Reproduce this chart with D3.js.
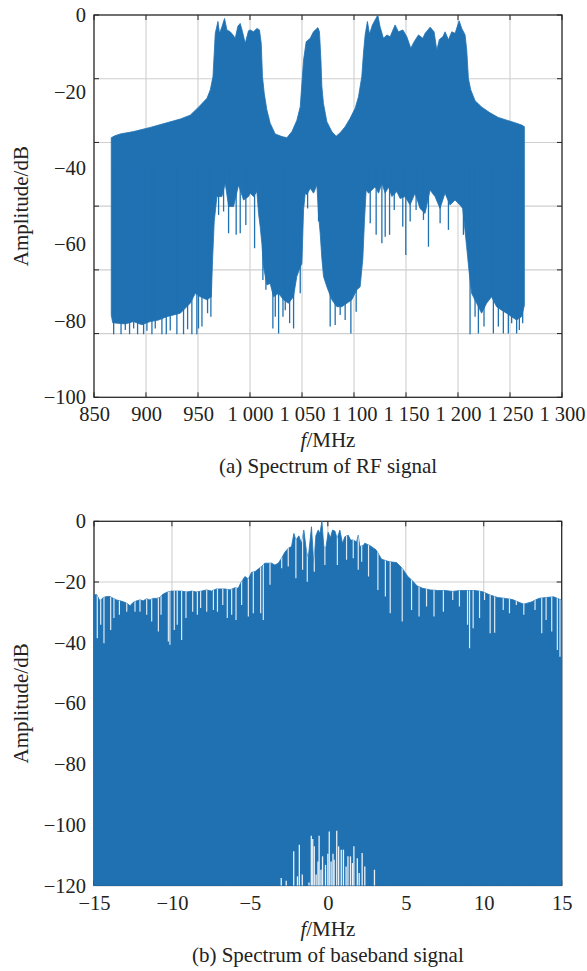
<!DOCTYPE html>
<html>
<head>
<meta charset="utf-8">
<script src="https://cdn.jsdelivr.net/npm/d3@7"></script>
<style>
  html, body { margin: 0; padding: 0; background: #ffffff; }
  svg { display: block; font-family: "Liberation Serif", "Times New Roman", serif; }
</style>
</head>
<body>
<svg id="chart" width="587" height="971"></svg>
<script>
// ---------- (a) RF spectrum: [frequency MHz, amplitude dB] ----------
const rfUpper = [
  [866.6,-32.1],[870,-31.6],[875.3,-31.1],[888,-30.5],[904,-29.4],[920,-28.2],[933,-27.2],
  [942.5,-26.2],[950.5,-24.1],[958.6,-21.8],[961.8,-19.6],[964.4,-16.1],[965.6,-10],[966.6,-4.8],
  [969.2,-1.7],[970.7,-4.8],[973,-3.1],[975.5,-0.9],[977.8,-3.9],[981,-4.4],[983.6,-5.2],
  [985.8,-6.1],[988.4,-2.9],[990.6,-2.2],[992.8,-4.4],[995.4,-7.4],[998.6,-4.1],[1000.2,-3.9],
  [1003.4,-4.4],[1006.6,-3.5],[1009.1,-3.9],[1010.8,-7.4],[1012,-16.1],[1013.7,-20.5],
  [1016.2,-24.8],[1019.4,-28.3],[1024.2,-31.1],[1030.7,-31.8],[1035.5,-32.1],[1040.3,-30.5],
  [1045.1,-27.5],[1048.3,-24],[1049.9,-17.9],[1051.5,-11.8],[1054,-7],[1057.9,-6.1],[1061,-4.4],
  [1065.3,-3.3],[1066.8,-4.4],[1068.2,-11.8],[1069.1,-18.7],[1070.6,-23.1],[1073.9,-27.9],
  [1078.7,-30.5],[1082.8,-31.7],[1086.7,-30.8],[1091.5,-29.2],[1096.3,-27],[1101.1,-24.4],
  [1104.3,-21.4],[1107.5,-16.1],[1109.1,-10],[1110.7,-5.2],[1112.9,-1.7],[1114.9,-5],
  [1117.7,-2.6],[1120.3,-1.3],[1122.9,0],[1125.1,-3.1],[1128.3,-6.1],[1131.6,-5.2],[1134.7,-5.7],
  [1139.5,-2.6],[1142.7,-4.4],[1147,-3.9],[1150.8,-5.7],[1154.6,-8.7],[1157.8,-7],[1162,-5.2],
  [1166.2,-6.1],[1168.4,-4.8],[1173.2,-3.2],[1177,-4.4],[1179.6,-9.2],[1182.1,-6.4],[1185.4,-5.7],
  [1187.6,-4.4],[1190.8,-6.5],[1194,-4.4],[1197.2,-4.8],[1201.1,-1.5],[1203.6,-3.5],[1206.8,-5.2],
  [1208.4,-9.2],[1210,-16.6],[1212.3,-19.6],[1216.4,-22.4],[1222.9,-24.1],[1230.8,-25.6],
  [1238.8,-26.8],[1246.9,-27.5],[1254.9,-28.2],[1261.3,-28.8],[1263.8,-29.2]
];
const rfLower = [
  [866.6,-78.5],[868,-80.5],[872,-80.6],[880,-80.8],[888,-80.2],[896,-81],[904,-80.2],[912,-79.8],
  [920,-78.9],[933,-78],[942.5,-75.4],[947.4,-72.8],[952.2,-73.7],[958.6,-74.5],[962.8,-73.7],
  [964,-64.1],[965.6,-54],[968.2,-47.5],[973,-47.5],[976.2,-44],[979.4,-50.1],[984.2,-50.1],
  [989,-44.5],[993.8,-48.4],[998.6,-47.5],[1000.2,-46.6],[1003.4,-47.5],[1006.6,-46.2],
  [1008.2,-51.9],[1009.8,-55.4],[1011.4,-59.8],[1013,-65.8],[1016.2,-70.6],[1019.4,-70.2],
  [1022.6,-73.7],[1027.4,-72.8],[1032.2,-74.5],[1037,-75.4],[1041.8,-73.7],[1045,-68.4],
  [1048.2,-66],[1049.9,-65],[1051.5,-51],[1053.1,-46.6],[1054.7,-47],[1057.9,-45.3],[1061.1,-46.6],
  [1064.3,-44.5],[1065.9,-52.3],[1067.5,-57.1],[1069.1,-63.7],[1070.7,-68.4],[1073.9,-71.1],
  [1078.7,-74.5],[1083.5,-76.3],[1088.3,-76.3],[1093.1,-75.4],[1097.9,-74.5],[1102.7,-71.9],
  [1105.9,-71.1],[1108.5,-63.7],[1110.1,-53.6],[1111.7,-45.8],[1114,-46.6],[1117.2,-45.8],
  [1120.4,-44.9],[1123.6,-46.6],[1126.8,-44],[1130,-46.6],[1133.2,-45],[1136.4,-47.5],
  [1141.2,-46.2],[1144.3,-48],[1149.1,-47.5],[1153.9,-49.7],[1158.7,-46.6],[1163.5,-50.6],
  [1168.3,-51.9],[1173.1,-45.8],[1177.9,-47.5],[1182.7,-50.6],[1187.5,-46.6],[1192.3,-49.7],
  [1197.1,-48.4],[1201.9,-49.7],[1204.5,-50.6],[1205.7,-53.6],[1208.3,-60.6],[1210.5,-66.7],
  [1213.1,-72.8],[1217.9,-75.4],[1222.7,-78],[1227.5,-75.4],[1232.3,-73.7],[1237.1,-76.3],
  [1241.9,-77.2],[1246.7,-78],[1251.5,-78.9],[1256.3,-79.8],[1261.1,-78.9],[1263.8,-76]
];
// deep minima reaching below the lower edge of the trace
const rfDips = [
  [868.9,-83.5],[876,-83.5],[880.1,-82.4],[884.2,-83.5],[888.1,-82],[891.9,-83.5],[897.7,-83.5],
  [900.9,-82.6],[905.7,-83.5],[908.9,-82],[915.3,-83.5],[919.5,-83.5],[923.3,-82.5],[929.7,-83.5],
  [936.1,-83.5],[940,-82.2],[944.1,-83.5],[948.9,-83.5],[950.5,-82],[953.8,-81.5],[959.2,-78],
  [962.4,-78.9],[969.8,-52.3],[974.6,-51.4],[979.4,-57.1],[986.7,-57.5],[990.6,-57.1],[996,-54.9],
  [1004.4,-61],[1012.4,-69.3],[1015.3,-71.9],[1022,-82],[1024.3,-78.9],[1027.5,-83.3],
  [1031.7,-78.9],[1033.9,-77.2],[1038.1,-80.6],[1041.9,-82],[1048.3,-72.8],[1055.4,-50.6],
  [1065.9,-54],[1077.1,-81.5],[1081.9,-81.1],[1086.7,-78.5],[1091.5,-79.8],[1097,-83.3],
  [1102.1,-77.6],[1115.6,-54.5],[1121.3,-57.5],[1126.8,-59.7],[1130,-58],[1134.2,-57.5],
  [1138.7,-51],[1146.9,-55.4],[1149.8,-62.8],[1154,-54],[1159.7,-51],[1166.8,-53.6],
  [1171.6,-60.6],[1182.8,-54.5],[1190.8,-56.2],[1205.2,-57.5],[1211.6,-83.5],[1216.4,-78.9],
  [1219.6,-83.3],[1225,-81.5],[1230.8,-73.7],[1234,-83.3],[1238.8,-81.5],[1243.6,-83.3],
  [1248.4,-83.3],[1251.6,-80.6],[1256.4,-83.3],[1259,-82.4],[1262.2,-80.6]
];
const rfXTicks = [850, 900, 950, 1000, 1050, 1100, 1150, 1200, 1250, 1300];
const rfYTicks = [0, -20, -40, -60, -80, -100];

// ---------- (b) baseband spectrum: [frequency MHz, amplitude dB] ----------
const bbPeaks = [
  [-15,-24.3],[-14.83,-24.1],[-14.62,-26.2],[-14.4,-25.1],[-14.19,-24.8],[-13.97,-24.8],
  [-13.76,-25.4],[-13.55,-25.9],[-13.33,-26.2],[-13.12,-26.5],[-12.9,-27],[-12.69,-27.8],
  [-12.48,-26.7],[-12.26,-26.2],[-12.05,-25.9],[-11.84,-26.2],[-11.62,-25.5],[-11.41,-25.9],
  [-11.2,-25.4],[-10.98,-25.4],[-10.77,-25.1],[-10.6,-24.1],[-10.34,-23.4],[-10.02,-23],
  [-9.7,-23],[-9.38,-23],[-9.06,-23.3],[-8.74,-23],[-8.42,-23.3],[-8.1,-23],[-7.78,-22.6],
  [-7.46,-23],[-7.14,-22.3],[-6.92,-22.3],[-6.6,-22.3],[-6.28,-22.6],[-5.96,-21.9],[-5.75,-22.1],
  [-5.6,-20.4],[-5.32,-18.2],[-5.1,-19],[-4.89,-16.8],[-4.68,-16.6],[-4.46,-15.7],[-4.25,-14.9],
  [-4.04,-13.8],[-3.82,-13.8],[-3.61,-13.8],[-3.4,-14.4],[-3.18,-13.8],[-2.97,-12.2],
  [-2.76,-10.2],[-2.54,-8.9],[-2.33,-8.3],[-2.18,-4],[-2.05,-6.2],[-1.86,-4.8],[-1.69,-7.3],
  [-1.54,-2.9],[-1.37,-10],[-1.26,-12.2],[-1.05,-1.8],[-0.9,-14.4],[-0.77,-4.8],[-0.62,-2.9],
  [-0.51,-4],[-0.38,0],[-0.26,-8.3],[-0.13,-8.9],[0.02,-3.6],[0.17,-5.4],[0.3,-2.9],[0.45,-3.2],
  [0.6,-5.7],[0.77,-2.9],[0.94,-7.3],[1.09,-5.1],[1.31,-4.6],[1.46,-6.2],[1.63,-6.2],[1.84,-6.8],
  [1.95,-4.6],[2.05,-8.3],[2.27,-8],[2.37,-7.2],[2.73,-8.1],[3.09,-9.4],[3.45,-12.5],[3.93,-13.3],
  [4.41,-13.6],[4.77,-15.5],[5.13,-18.2],[5.37,-19.3],[5.73,-21.3],[6.09,-22.1],[6.57,-22.6],
  [7.05,-22.8],[7.53,-22.8],[8.01,-23.1],[8.49,-22.8],[8.97,-22.8],[9.45,-22.8],[9.93,-23.2],
  [10.41,-24.3],[10.89,-25.1],[11.37,-25.4],[11.85,-25.8],[12.21,-26.6],[12.57,-27.3],
  [13.05,-26.6],[13.53,-25.4],[14.01,-25.1],[14.49,-24.9],[15,-26]
];
// gaps between neighbouring spectral lines (lowest level of each gap)
const bbGaps = [
  [-14.79,-38.5],[-14.57,-34.1],[-14.36,-40.2],[-13.93,-35.8],[-13.72,-31.9],[-13.37,-30.8],
  [-12.9,-29.8],[-12.37,-29.8],[-12.05,-29.8],[-11.62,-30.8],[-11.3,-33],[-10.87,-36.3],
  [-10.7,-30.8],[-10.23,-39.6],[-10.13,-40.7],[-9.85,-35.8],[-9.66,-34.1],[-9.38,-39.1],
  [-9.1,-31.9],[-8.67,-29.8],[-8.37,-30.8],[-8.16,-28.6],[-7.77,-29.8],[-7.34,-29.2],
  [-7.08,-29.8],[-6.74,-27.6],[-6.45,-31.9],[-6.17,-30.8],[-5.89,-32.5],[-5.53,-27.6],
  [-5.1,-31.4],[-4.78,-30.3],[-4.31,-30.3],[-4.14,-32.5],[-3.71,-20.9],[-2.96,-15.5],
  [-2.54,-14.9],[-2.05,-18.8],[-1.62,-16],[-1.32,-19.9],[-0.87,-16.6],[-0.19,-14.4],
  [0.61,-14.4],[1.2,-12.7],[1.63,-12.2],[1.95,-16],[2.17,-13.3],[2.61,-18.2],[3.21,-22.6],
  [3.69,-24.8],[4.0,-30.3],[4.77,-33],[5.37,-29.2],[5.85,-31.4],[6.33,-28.1],[6.81,-31.4],
  [7.41,-29.8],[8.01,-25.9],[8.44,-28.1],[8.96,-34.1],[9.09,-41.8],[9.32,-35.2],[9.73,-31.9],
  [10.05,-25.9],[10.41,-36.9],[10.7,-36.7],[11.25,-29.2],[11.65,-30.3],[12.09,-27.6],
  [12.57,-30.8],[13.29,-29.2],[13.72,-36.9],[14.0,-32.5],[14.36,-36.3],[14.72,-42.4],[14.89,-44.6]
];
// bins near DC whose floor stays above the bottom of the range
const bbFloorGaps = [
  [-2.99,-117.5],[-2.67,-118.4],[-2.19,-108.7],[-1.95,-117],[-1.83,-106.6],[-1.64,-116.4],
  [-1.21,-119],[-1.06,-103.6],[-0.97,-104.7],[-0.87,-107.1],[-0.75,-116.4],[-0.63,-112.1],
  [-0.56,-103.6],[-0.44,-114.8],[-0.34,-110.4],[-0.15,-113.2],[0.0,-109.5],[0.09,-102.2],
  [0.21,-112.1],[0.33,-109.5],[0.4,-111.5],[0.57,-102],[0.69,-107.1],[0.86,-108.2],[1.0,-108.2],
  [1.17,-113.7],[1.29,-110.4],[1.45,-110.4],[1.58,-112.6],[1.67,-107.1],[1.89,-111],
  [2.01,-115.9],[2.2,-109.3],[2.37,-113.7],[2.99,-114.8]
];
const bbXTicks = [-15, -10, -5, 0, 5, 10, 15];
const bbYTicks = [0, -20, -40, -60, -80, -100, -120];

// ---------- drawing ----------
const blue = "#1f71b2";
const ink = "#222222";
const gridColor = "#cfcfcf";
const svg = d3.select("#chart");
const minus = s => String(s).replace("-", "\u2212");
const thousands = v => v >= 1000 ? Math.floor(v / 1000) + " " + String(v % 1000).padStart(3, "0") : String(v);

function framePanel(x, y, xGrid, yGrid) {
  const [x0, x1] = x.range();
  const [yb, yt] = y.range();
  const g = svg.append("g");
  // grid
  g.append("g").selectAll("line").data(xGrid).join("line")
    .attr("x1", d => x(d)).attr("x2", d => x(d)).attr("y1", yb).attr("y2", yt)
    .attr("stroke", gridColor).attr("stroke-width", 1.1);
  g.append("g").selectAll("line").data(yGrid).join("line")
    .attr("x1", x0).attr("x2", x1).attr("y1", d => y(d)).attr("y2", d => y(d))
    .attr("stroke", gridColor).attr("stroke-width", 1.1);
  // box
  g.append("rect").attr("x", x0).attr("y", yt).attr("width", x1 - x0).attr("height", yb - yt)
    .attr("fill", "none").attr("stroke", ink).attr("stroke-width", 1.2);
  // inward tick marks on all four sides
  const tl = 5;
  const tk = g.append("g").attr("stroke", ink).attr("stroke-width", 1);
  tk.selectAll("line.xb").data(xGrid).join("line").attr("class", "xb")
    .attr("x1", d => x(d)).attr("x2", d => x(d)).attr("y1", yb).attr("y2", yb - tl);
  tk.selectAll("line.xt").data(xGrid).join("line").attr("class", "xt")
    .attr("x1", d => x(d)).attr("x2", d => x(d)).attr("y1", yt).attr("y2", yt + tl);
  tk.selectAll("line.yl").data(yGrid).join("line").attr("class", "yl")
    .attr("x1", x0).attr("x2", x0 + tl).attr("y1", d => y(d)).attr("y2", d => y(d));
  tk.selectAll("line.yr").data(yGrid).join("line").attr("class", "yr")
    .attr("x1", x1).attr("x2", x1 - tl).attr("y1", d => y(d)).attr("y2", d => y(d));
  return g;
}

function labelPanel(x, y, xTicks, yTicks, xFmt, xPad, caption) {
  const [x0, x1] = x.range();
  const [yb, yt] = y.range();
  const ax = svg.append("g").attr("transform", `translate(0,${yb})`)
    .call(d3.axisBottom(x).tickValues(xTicks).tickFormat(xFmt).tickSize(0).tickPadding(xPad));
  const ay = svg.append("g").attr("transform", `translate(${x0},0)`)
    .call(d3.axisLeft(y).tickValues(yTicks).tickFormat(minus).tickSize(0).tickPadding(8));
  [ax, ay].forEach(a => {
    a.select(".domain").remove();
    a.selectAll("text").attr("fill", ink).style("font-size", "20.5px")
      .style("font-family", '"Liberation Serif", "Times New Roman", serif');
  });
  const cx = (x0 + x1) / 2;
  const t = svg.append("text").attr("x", cx).attr("y", yb + 50).attr("text-anchor", "middle")
    .attr("fill", ink).style("font-size", "21px");
  t.append("tspan").style("font-style", "italic").text("f");
  t.append("tspan").text("/MHz");
  svg.append("text").attr("x", cx).attr("y", yb + 76).attr("text-anchor", "middle")
    .attr("fill", ink).style("font-size", "21px").text(caption);
  svg.append("text").attr("transform", `translate(28,${(yb + yt) / 2}) rotate(-90)`)
    .attr("text-anchor", "middle").attr("fill", ink).style("font-size", "21px")
    .text("Amplitude/dB");
}

// ----- panel (a) -----
const rfX = d3.scaleLinear().domain([850, 1300]).range([94, 562]);
const rfY = d3.scaleLinear().domain([-100, 0]).range([397.3, 15]);
const rfGrid = d3.range(0, 7).map(k => -100 * k / 6);
framePanel(rfX, rfY, rfXTicks, rfGrid);

const rfLine = d3.line().x(d => rfX(d[0])).y(d => rfY(d[1]));
const rfOutline = rfUpper.concat(rfLower.slice().reverse());
const gA = svg.append("g");
gA.append("path").attr("d", rfLine(rfOutline) + "Z")
  .attr("fill", blue).attr("stroke", blue).attr("stroke-width", 0.8).attr("stroke-linejoin", "round");
gA.append("g").selectAll("line").data(rfDips).join("line")
  .attr("x1", d => rfX(d[0])).attr("x2", d => rfX(d[0]))
  .attr("y1", rfY(-40)).attr("y2", d => rfY(d[1]))
  .attr("stroke", blue).attr("stroke-width", 1.3);
labelPanel(rfX, rfY, rfXTicks, rfYTicks, thousands, 9, "(a) Spectrum of RF signal");

// ----- panel (b) -----
const bbX = d3.scaleLinear().domain([-15, 15]).range([94, 561.7]);
const bbY = d3.scaleLinear().domain([-120, 0]).range([885.5, 521.3]);
framePanel(bbX, bbY, bbXTicks, bbYTicks);

const bbArea = d3.area().x(d => bbX(d[0])).y0(bbY(-120)).y1(d => bbY(d[1]));
const gB = svg.append("g");
svg.append("defs").append("clipPath").attr("id", "bbClip")
  .append("path").attr("d", bbArea(bbPeaks));
gB.append("path").attr("d", bbArea(bbPeaks))
  .attr("fill", blue).attr("stroke", blue).attr("stroke-width", 0.8).attr("stroke-linejoin", "round");
gB.append("g").attr("clip-path", "url(#bbClip)").selectAll("line").data(bbGaps).join("line")
  .attr("x1", d => bbX(d[0])).attr("x2", d => bbX(d[0]))
  .attr("y1", bbY(0)).attr("y2", d => bbY(d[1]))
  .attr("stroke", "#ffffff").attr("stroke-opacity", 0.85).attr("stroke-width", 1.2);
gB.append("g").selectAll("line").data(bbFloorGaps).join("line")
  .attr("x1", d => bbX(d[0])).attr("x2", d => bbX(d[0]))
  .attr("y1", bbY(-120)).attr("y2", d => bbY(d[1]))
  .attr("stroke", "#ffffff").attr("stroke-opacity", 0.9).attr("stroke-width", 1.3);
labelPanel(bbX, bbY, bbXTicks, bbYTicks, minus, 10, "(b) Spectrum of baseband signal");
</script>
</body>
</html>
